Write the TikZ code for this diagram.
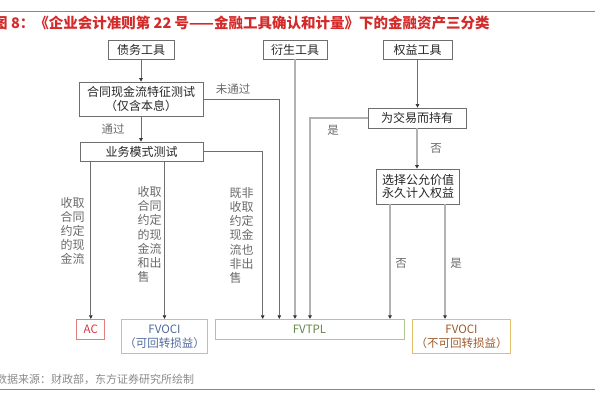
\documentclass[tikz,border=0pt]{standalone}
\usepackage{fontspec}
\setmainfont{Noto Sans CJK SC}
\usepackage{tikz}
\usetikzlibrary{arrows.meta,positioning}
\definecolor{titlered}{HTML}{D42A2A}
\definecolor{rulered}{HTML}{E0645C}
\definecolor{linegray}{HTML}{6E6E6E}
\definecolor{lightline}{HTML}{B2B2B2}
\definecolor{txtgray}{HTML}{6A6A6A}
\definecolor{srcgray}{HTML}{8A8A8A}
\definecolor{acbd}{HTML}{E58080}
\definecolor{actx}{HTML}{D8343C}
\definecolor{ocibd}{HTML}{A8C0E8}
\definecolor{ocitx}{HTML}{4E6A9C}
\definecolor{plbd}{HTML}{AFC596}
\definecolor{pltx}{HTML}{66864C}
\definecolor{nocibd}{HTML}{E2C06A}
\definecolor{nocitx}{HTML}{9E5A2C}
\tikzset{
  ar/.style={-{Triangle[length=3.6pt,width=3.6pt,color=black!80]},line width=0.7pt,linegray},
  arl/.style={ar,lightline,line width=1.3pt},
  box/.style={draw=linegray,line width=0.7pt,font=\fontsize{12}{14.5}\selectfont,text=black!85,align=center,inner sep=0pt},
  res/.style={draw,line width=0.8pt,font=\fontsize{11.5}{14}\selectfont,align=center,inner sep=0pt,minimum height=20pt},
  lbl/.style={font=\fontsize{11.5}{14}\selectfont,text=txtgray,inner sep=0pt},
  vlbl/.style={lbl,font=\fontsize{12}{14.2}\selectfont,align=left}
}
\begin{document}
\begin{tikzpicture}[x=1pt,y=-1pt]
\useasboundingbox (0,0) rectangle (595,404);
% title and rules
\coordinate (rtl) at (0,11.7); \coordinate (rtr) at (595,11.7);
\coordinate (rbl) at (0,389); \coordinate (rbr) at (595,389);
\draw[rulered,line width=0.8pt] (rtl) -- (rtr);
\draw[rulered,line width=0.8pt] (rbl) -- (rbr);
\node[anchor=west,inner sep=0pt,font=\bfseries\fontsize{14.5}{14.5}\selectfont,text=titlered] (title) at (-7,22.7) {图 8：《企业会计准则第 22 号——金融工具确认和计量》下的金融资产三分类};
\node[anchor=west,inner sep=0pt,font=\fontsize{11}{11}\selectfont,text=srcgray] (src) at (-4,379) {数据来源：财政部，东方证券研究所绘制};
% instruments and tests
\node[box,minimum width=66pt,minimum height=19pt] (debt) at (141,49.5) {债务工具};
\node[box,minimum width=64pt,minimum height=19pt] (deriv) at (295,49.5) {衍生工具};
\node[box,minimum width=69pt,minimum height=19pt] (equity) at (417.5,49.5) {权益工具};
\node[box,minimum width=124pt,minimum height=34pt] (cash) at (141,99) {合同现金流特征测试\\（仅含本息）};
\node[box,minimum width=123pt,minimum height=19pt] (biz) at (141.5,151.5) {业务模式测试};
\node[box,minimum width=98pt,minimum height=20pt] (trade) at (417,118) {为交易而持有};
\node[box,minimum width=83pt,minimum height=35pt,font=\fontsize{12}{13.5}\selectfont] (choose) at (418,186.5) {选择公允价值\\永久计入权益};
% categories
\node[res,draw=acbd,text=actx,minimum width=28pt] (ac) at (90.8,329.3) {AC};
\node[res,draw=ocibd,text=ocitx,minimum width=86pt,minimum height=34pt] (oci) at (164.5,336.3) {FVOCI\\（可回转损益）};
\node[res,draw=plbd,text=pltx,minimum width=189pt] (fvtpl) at (309.5,329.3) {FVTPL};
\node[res,draw=nocibd,text=nocitx,minimum width=98pt,minimum height=34pt] (noci) at (461.5,336.3) {FVOCI\\（不可回转损益）};
% connectors
\coordinate (failx) at (279.3,0);
\coordinate (bizx) at (262.7,0);
\coordinate (yesx) at (310,0);
\coordinate (nox) at (390,0);
\coordinate (keepx) at (445,0);
\draw[ar] (debt) -- (cash);
\draw[ar] (cash.south) -- (cash.south |- biz.north);
\draw[ar] (cash.east) -| (failx |- fvtpl.north);
\draw[ar] (biz.east) -| (bizx |- fvtpl.north);
\draw[ar] (ac.north |- biz.south) -- (ac);
\draw[ar] (oci.north |- biz.south) -- (oci);
\draw[arl] (deriv) -- (deriv.south |- fvtpl.north);
\draw[ar] (equity) -- (equity.south |- trade.north);
\draw[arl] (trade.west) -| (yesx |- fvtpl.north);
\draw[arl] (trade.south) -- (trade.south |- choose.north);
\draw[arl] (nox |- choose.south) -- (nox |- fvtpl.north);
\draw[arl] (keepx |- choose.south) -- (keepx |- noci.north);
% labels
\node[lbl] (failtxt) at (233,89) {未通过};
\node[lbl] (passtxt) at (113,129) {通过};
\node[lbl] (yestxt) at (333,130) {是};
\node[lbl] (notxt) at (436,148) {否};
\node[lbl] (no2txt) at (401,263) {否};
\node[lbl] (yes2txt) at (456,263) {是};
\node[vlbl] (collect) at (72.5,231) {收取\\合同\\约定\\的现\\金流};
\node[vlbl] (collsell) at (149.5,234.5) {收取\\合同\\约定\\的现\\金流\\和出\\售};
\node[vlbl] (neither) at (241.7,235.3) {既非\\收取\\约定\\现金\\流也\\非出\\售};
\end{tikzpicture}
\end{document}
